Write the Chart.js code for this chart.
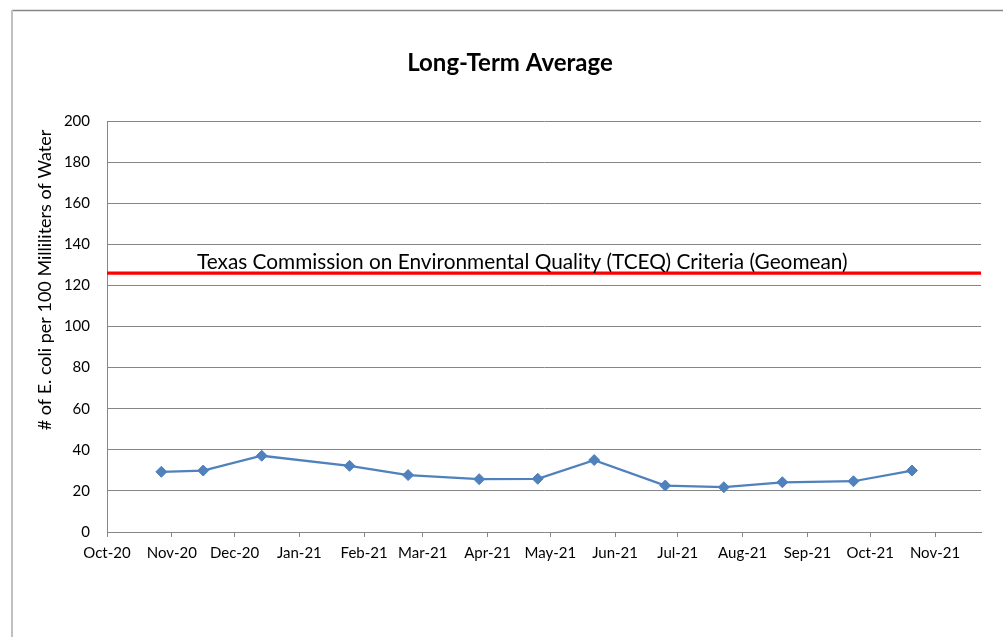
<!DOCTYPE html>
<html>
<head>
<meta charset="utf-8">
<script src="https://cdn.jsdelivr.net/npm/chart.js@4.4.1/dist/chart.umd.min.js"></script>
<style>
  html, body { margin: 0; padding: 0; background: #fff; }
  #wrap { width: 1003px; height: 637px; }
</style>
</head>
<body>
<div id="wrap"><canvas id="chart" width="1003" height="637"></canvas></div>
<script>
// sample dates and long-term average values
const sampleDates = ["2020-10-27", "2020-11-16", "2020-12-14", "2021-01-25", "2021-02-22", "2021-03-28",
  "2021-04-25", "2021-05-22", "2021-06-25", "2021-07-23", "2021-08-20", "2021-09-23", "2021-10-21"]
const avgValues = [29.3, 29.9, 37.1, 32.2, 27.7, 25.7, 25.9, 35.0, 22.6, 21.8, 24.2, 24.7, 29.9]

// axis
const tickDates = ["2020-10-01", "2020-11-01", "2020-12-01", "2021-01-01", "2021-02-01", "2021-03-01", "2021-04-01",
  "2021-05-01", "2021-06-01", "2021-07-01", "2021-08-01", "2021-09-01", "2021-10-01", "2021-11-01"]
const tickLabels = ["Oct-20", "Nov-20", "Dec-20", "Jan-21", "Feb-21", "Mar-21", "Apr-21",
  "May-21", "Jun-21", "Jul-21", "Aug-21", "Sep-21", "Oct-21", "Nov-21"]
const axisStart = "2020-10-01"
const axisEnd = "2021-11-23"
const yTicks = [0, 20, 40, 60, 80, 100, 120, 140, 160, 180, 200]

// criteria line
const criteriaValue = 126
const criteriaLabel = "Texas Commission on Environmental Quality (TCEQ) Criteria (Geomean)"
const chartTitle = "Long-Term Average"
const yTitle = "# of E. coli per 100 Milliliters of Water"

const dayOf = (s) => {
  const p = s.split("-").map(Number)
  return (Date.UTC(p[0], p[1] - 1, p[2]) - Date.UTC(2020, 9, 1)) / 86400000
}

const xMin = dayOf(axisStart)
const xMax = dayOf(axisEnd)
const tickDays = tickDates.map(dayOf)

const extras = {
  id: "extras",
  beforeDraw(chart) {
    const ctx = chart.ctx
    ctx.save()
    ctx.fillStyle = "#fff"
    ctx.fillRect(0, 0, chart.width, chart.height)
    // outer frame
    ctx.strokeStyle = "#868686"
    ctx.lineWidth = 1.5
    ctx.beginPath()
    ctx.moveTo(12, 10.5)
    ctx.lineTo(chart.width, 10.5)
    ctx.stroke()
    ctx.strokeStyle = "#c0c0c0"
    ctx.lineWidth = 2
    ctx.beginPath()
    ctx.moveTo(12, 10)
    ctx.lineTo(12, chart.height)
    ctx.stroke()
    ctx.restore()
  },
  afterDraw(chart) {
    const ctx = chart.ctx
    const y = chart.scales.y
    const x = chart.scales.x
    ctx.save()
    ctx.fillStyle = "#000"
    ctx.textBaseline = "middle"
    // title
    ctx.textAlign = "center"
    ctx.font = "bold 24px Lato"
    ctx.fillText(chartTitle, 510, 63)
    // criteria label
    ctx.textAlign = "left"
    ctx.font = "20.8px Lato"
    ctx.fillText(criteriaLabel, x.left + 90, y.getPixelForValue(criteriaValue) - 11)
    // y axis title
    ctx.translate(45, 280)
    ctx.rotate(-Math.PI / 2)
    ctx.textAlign = "center"
    ctx.font = "18px Lato"
    ctx.fillText(yTitle, 0, 0)
    ctx.restore()
  }
}

const data = {
  datasets: [{
    label: "Long-Term Average",
    data: sampleDates.map((d, i) => ({ x: dayOf(d), y: avgValues[i] })),
    borderColor: "#4f81bd",
    backgroundColor: "#4f81bd",
    borderWidth: 2.25,
    pointStyle: "rectRot",
    pointRadius: 5.5,
    pointBorderWidth: 1,
    tension: 0
  }, {
    label: "TCEQ Criteria",
    data: [{ x: xMin, y: criteriaValue }, { x: xMax, y: criteriaValue }],
    borderColor: "#ff0000",
    borderWidth: 3.2,
    pointRadius: 0,
    tension: 0
  }]
}

const config = {
  type: "line",
  data: data,
  plugins: [extras],
  options: {
    responsive: false,
    animation: false,
    layout: {
      padding: { left: 0, right: 22, top: 121, bottom: 75 }
    },
    plugins: {
      legend: { display: false },
      tooltip: { enabled: false },
      title: { display: false }
    },
    scales: {
      x: {
        type: "linear",
        min: xMin,
        max: xMax,
        afterBuildTicks: (scale) => {
          scale.ticks = tickDays.map(v => ({ value: v }))
        },
        afterFit: (scale) => { scale.height = 30 },
        ticks: {
          autoSkip: false,
          maxRotation: 0,
          padding: 7,
          color: "#000",
          font: { family: "Lato", size: 15 },
          callback: (value, index) => tickLabels[index]
        },
        grid: {
          drawOnChartArea: false,
          drawTicks: true,
          tickLength: 5,
          color: "#868686"
        },
        border: { color: "#868686", width: 1 }
      },
      y: {
        min: 0,
        max: 200,
        afterBuildTicks: (scale) => {
          scale.ticks = yTicks.map(v => ({ value: v }))
        },
        afterFit: (scale) => { scale.width = 107 },
        ticks: {
          padding: 17,
          color: "#000",
          font: { family: "Lato", size: 15 }
        },
        grid: {
          drawTicks: false,
          color: "#868686"
        },
        border: { color: "#868686", width: 1 }
      }
    }
  }
}

document.addEventListener("DOMContentLoaded", () => {
  new Chart(document.querySelector("#chart"), config)
})
</script>
</body>
</html>
